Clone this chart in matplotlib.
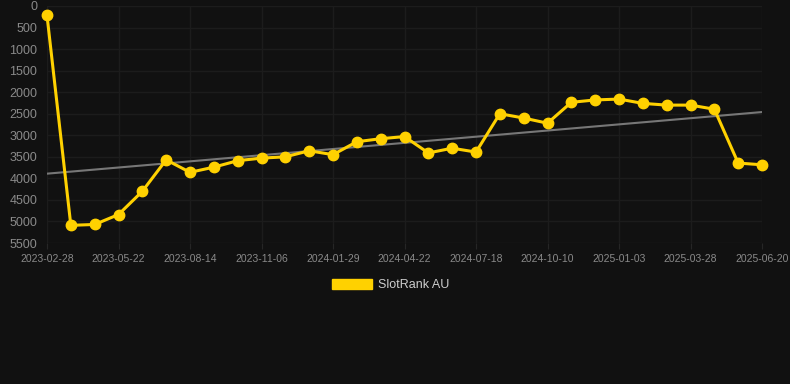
import numpy as np
import matplotlib as mpl
mpl.use('agg')
import matplotlib.pyplot as plt
from matplotlib.patches import Patch

plt.rcParams['font.family'] = ['Liberation Sans', 'DejaVu Sans']

dates = ['2023-02-28', '2023-03-28', '2023-04-25', '2023-05-22', '2023-06-19', '2023-07-17',
         '2023-08-14', '2023-09-11', '2023-10-09', '2023-11-06', '2023-12-04', '2024-01-01',
         '2024-01-29', '2024-02-26', '2024-03-25', '2024-04-22', '2024-05-20', '2024-06-19',
         '2024-07-18', '2024-08-15', '2024-09-12', '2024-10-10', '2024-11-07', '2024-12-05',
         '2025-01-03', '2025-01-31', '2025-02-28', '2025-03-28', '2025-04-25', '2025-05-23',
         '2025-06-20']
rank = [220, 5090, 5070, 4840, 4300, 3570, 3860, 3740, 3590, 3530, 3500, 3360,
        3450, 3150, 3080, 3030, 3410, 3300, 3390, 2500, 2600, 2720, 2235, 2180,
        2160, 2260, 2300, 2300, 2395, 3645, 3685]
series_name = 'SlotRank AU'

bg = '#111111'
gold = '#FFD100'

x = np.arange(len(dates))
y = np.array(rank)

fig = plt.figure(figsize=(7.9, 3.84), dpi=100, facecolor=bg)
ax = fig.add_axes([47 / 790, 1 - 243 / 384, 715 / 790, 237 / 384])
ax.set_facecolor(bg)

# trend line (least squares)
k, b = np.polyfit(x, y, 1)
ax.plot(x, k * x + b, '-', color='#777777', lw=1.5, zorder=3)

ax.plot(x, y, '-', color=gold, lw=2.2, marker='o', ms=7.5, mfc=gold, mec=gold,
        zorder=5, clip_on=False)

ax.set_xlim(0, len(dates) - 1)
ax.set_ylim(5500, 0)
ax.set_yticks(np.arange(0, 5501, 500))
ax.set_xticks(x[::3])
ax.set_xticklabels(dates[::3])

ax.grid(True, color='#1c1c1c', lw=1)
for s in ax.spines.values():
    s.set_visible(False)
ax.tick_params(axis='y', length=0, pad=7, labelsize=9, labelcolor='#8a8a8a')
ax.tick_params(axis='x', length=4, color='#262626', pad=4, labelsize=7.5, labelcolor='#8a8a8a')

fig.legend(handles=[Patch(color=gold, label=series_name)], loc='upper center',
           bbox_to_anchor=(0.495, 1 - 268 / 384), frameon=False, handlelength=3.2,
           handleheight=0.8, fontsize=9, labelcolor='#cccccc', handletextpad=0.5)

plt.savefig('out.png', facecolor=bg)
